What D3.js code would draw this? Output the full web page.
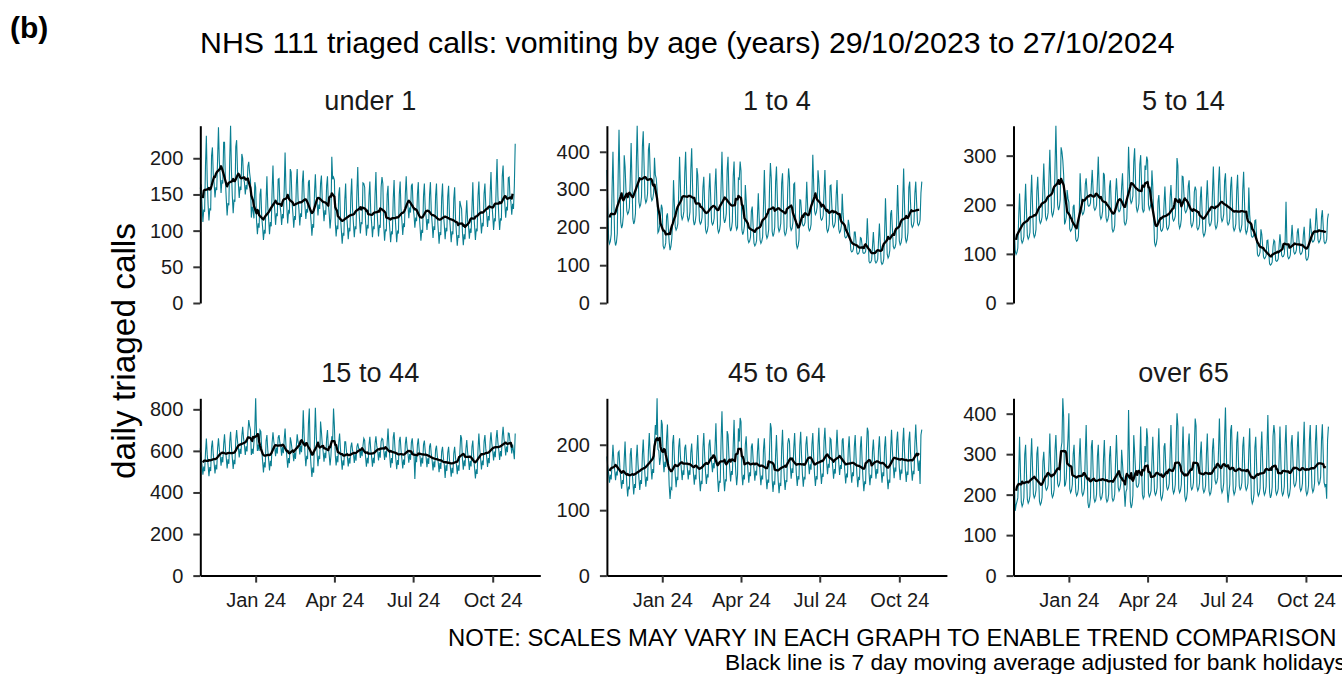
<!DOCTYPE html>
<html>
<head>
<meta charset="utf-8">
<script src="https://cdnjs.cloudflare.com/ajax/libs/d3/7.8.5/d3.min.js"></script>
<style>
  body { margin: 0; background: #fff; }
  text { font-family: "Liberation Sans", Arial, sans-serif; }
</style>
</head>
<body>
<svg id="chart" width="1342" height="674"></svg>
<script>
// ---- data: daily triaged calls, one value per day from startDate ----
const startDate = "2023-10-29";
const panelNames = ["under 1", "1 to 4", "5 to 14", "15 to 44", "45 to 64", "over 65"];

const under1 = [
  158,164,135,112,129,126,190, 231,170,136,114,131,128,203,
  215,178,165,146,160,156,199, 243,196,175,152,170,165,222,
  222,170,144,121,138,135,198, 245,183,148,124,143,140,216,
  225,183,165,145,161,156,206, 200,172,167,150,163,157,189,
  195,180,170,118,133,128,117, 167,160,114,95,110,104,150,
  158,119,105,87,101,96,141, 175,133,116,95,112,106,156,
  190,147,129,108,124,120,171, 172,137,126,108,123,117,157,
  208,158,133,110,127,125,185, 181,140,124,104,120,115,163,
  185,144,129,107,124,119,167, 183,147,134,116,130,125,167,
  170,129,113,93,109,104,152, 178,147,140,121,136,130,165,
  176,142,132,113,128,122,162, 175,138,123,103,118,202,171,
  174,170,112,92,107,102,150, 160,119,101,82,97,93,142,
  165,124,108,88,104,99,147, 172,129,110,91,106,102,153,
  188,140,116,96,112,109,166, 165,160,113,93,108,103,148,
  168,127,111,91,106,102,150, 181,134,112,92,108,104,160,
  174,165,107,86,102,99,150, 162,121,103,84,99,95,144,
  170,125,104,84,100,96,150, 168,129,114,94,110,105,151,
  175,143,135,117,132,125,162, 165,132,122,104,118,113,151,
  167,124,105,86,101,97,148, 165,130,119,101,116,110,150,
  167,126,110,90,106,101,149, 165,121,102,82,98,94,145,
  165,124,108,88,104,99,147, 162,121,103,84,99,95,144,
  160,117,98,79,94,90,141, 135,130,98,80,95,88,120,
  142,113,107,89,103,97,130, 167,125,107,87,103,99,148,
  168,130,115,96,111,106,151, 165,133,124,105,120,114,151,
  181,139,121,101,117,113,162, 199,148,121,101,117,114,175,
  190,152,137,118,133,128,173, 174,145,140,122,137,130,162,
  220
];

const age1to4 = [
  352,258,169,157,163,182,302, 400,280,168,152,160,184,336,
  458,332,214,198,206,231,391, 361,300,244,235,240,252,329,
  423,320,223,209,216,237,368, 469,365,267,254,260,281,413,
  454,363,277,265,271,289,405, 423,350,281,271,276,291,384,
  339,330,300,186,190,205,230, 260,250,151,144,148,159,230,
  237,200,160,140,150,171,217, 325,261,202,193,198,210,291,
  387,307,232,221,227,243,344, 400,312,229,217,223,241,353,
  409,311,219,206,213,232,357, 339,276,217,209,213,226,305,
  334,262,195,185,190,204,296, 343,277,215,207,211,224,308,
  356,274,197,186,191,208,312, 400,309,225,212,219,237,352,
  387,292,203,190,197,216,336, 374,287,206,194,200,330,328,
  374,350,194,181,188,205,312, 272,218,168,160,164,175,243,
  255,205,158,151,155,165,228, 290,226,167,158,163,175,256,
  352,264,182,171,177,194,305, 370,330,189,176,183,201,320,
  361,278,200,189,195,211,317, 343,264,189,179,184,200,301,
  356,330,202,192,197,213,314, 317,234,156,145,151,167,273,
  272,239,208,204,206,213,254, 321,258,199,191,195,208,287,
  392,316,244,234,239,254,351, 321,272,225,219,222,232,295,
  352,273,198,188,193,209,310, 312,258,208,200,204,215,283,
  325,258,195,186,190,204,289, 237,206,176,172,174,180,220,
  206,172,139,135,137,144,188, 188,160,133,129,131,137,173,
  171,152,133,131,132,136,161, 224,170,110,106,108,114,150,
  188,148,111,106,109,116,167, 210,158,109,102,105,116,182,
  277,201,129,119,124,139,236, 246,197,150,144,147,157,220,
  312,236,164,154,159,174,271, 356,262,173,161,167,186,306,
  321,263,208,200,204,216,290, 321,265,212,205,209,220,291,
  321
];

const age5to14 = [
  155,151,106,99,103,112,174, 223,174,129,122,126,135,197,
  243,188,137,130,134,144,214, 261,200,142,134,138,150,228,
  257,211,169,162,166,175,233, 284,229,177,169,173,184,254,
  312,247,186,177,182,195,277, 361,278,200,189,195,211,317,
  308,290,260,160,165,175,230, 213,205,151,146,149,155,196,
  200,164,130,126,128,135,181, 264,224,186,180,183,191,242,
  254,226,200,197,198,204,239, 271,231,194,189,192,199,250,
  298,237,179,171,175,187,265, 261,215,173,166,170,179,237,
  250,199,151,145,148,158,223, 254,221,190,186,188,195,236,
  264,213,165,159,162,172,237, 318,263,211,203,207,218,288,
  315,253,195,186,191,203,282, 301,245,192,185,188,280,271,
  298,290,200,190,195,204,270, 237,179,124,116,120,132,206,
  220,184,150,146,148,155,201, 237,194,154,149,152,160,214,
  240,205,172,167,170,177,221, 295,280,162,152,157,171,258,
  257,222,189,184,187,194,238, 250,204,162,155,159,168,226,
  237,230,154,149,152,160,214, 237,188,143,136,140,149,211,
  250,205,163,157,160,169,226, 278,217,159,151,155,167,245,
  278,224,174,166,170,181,249, 264,213,165,159,162,172,237,
  257,204,154,147,151,161,229, 261,205,152,145,149,160,231,
  267,206,150,141,146,158,235, 180,158,137,134,135,140,168,
  169,133,99,95,97,104,150, 140,116,94,90,92,97,127,
  128,103,80,77,79,83,115, 128,125,87,85,86,90,117,
  140,118,97,94,95,100,128, 206,125,95,90,92,98,130,
  159,131,104,100,102,108,144, 152,127,103,99,101,106,138,
  155,122,91,87,89,96,137, 172,149,127,124,126,130,160,
  193,159,128,123,126,132,175, 189,156,125,121,123,130,171,
  182
];

const age15to44 = [
  612,564,530,485,525,502,590, 660,582,530,478,522,503,618,
  650,583,540,491,533,511,614, 660,606,575,529,570,545,631,
  680,611,568,516,560,538,643, 692,616,565,513,557,536,651,
  700,646,615,569,610,585,671, 716,660,627,580,622,597,686,
  748,720,700,580,610,585,640, 700,853,680,600,630,600,700,
  692,608,552,496,545,520,647, 676,604,558,506,552,526,638,
  690,644,620,574,616,587,665, 676,638,622,577,618,589,656,
  708,627,573,519,566,541,665, 644,608,594,550,590,561,625,
  680,643,628,583,624,594,660, 796,676,586,526,576,560,732,
  804,600,530,475,520,495,650, 808,682,586,526,576,561,741,
  692,632,596,548,591,565,660, 700,615,580,530,575,670,650,
  804,720,580,530,575,545,640, 684,610,562,509,555,530,644,
  644,596,571,525,567,539,618, 640,602,588,542,584,553,620,
  636,612,610,566,607,574,623, 660,650,571,524,567,540,630,
  668,608,572,524,567,541,636, 670,624,600,554,596,567,645,
  660,655,602,556,598,568,638, 708,627,573,519,566,541,665,
  690,614,562,512,556,533,649, 668,604,563,515,558,533,634,
  668,617,589,543,585,557,641, 660,608,579,465,575,546,632,
  660,604,571,524,567,540,630, 650,598,569,522,564,537,622,
  636,583,553,506,549,521,608, 625,573,545,498,541,513,597,
  620,566,536,470,531,504,591, 620,560,524,476,519,493,588,
  620,566,536,488,531,504,591, 676,660,560,510,554,526,610,
  652,592,556,508,551,525,620, 650,571,518,467,511,489,608,
  684,610,560,511,554,531,644, 676,612,571,523,566,541,642,
  690,634,601,554,597,570,660, 700,640,604,556,599,573,668,
  716,659,626,578,621,594,686, 684,647,633,588,630,599,560,
  684
];

const age45to64 = [
  182,166,156,142,154,147,173, 200,177,161,146,159,153,188,
  190,165,148,133,146,140,177, 205,168,140,121,136,132,185,
  195,164,143,124,140,134,179, 200,170,149,131,146,140,184,
  208,177,154,136,151,145,191, 218,187,166,147,163,157,202,
  230,215,271,193,191,169,180, 238,231,177,158,174,166,210,
  231,179,138,117,134,132,203, 215,180,154,135,151,146,196,
  210,182,163,146,161,154,195, 200,178,164,147,161,154,188,
  202,175,157,139,154,147,188, 215,177,148,129,145,140,195,
  218,184,158,140,155,150,200, 208,187,174,158,172,164,197,
  233,186,149,128,145,142,208, 251,196,151,129,146,145,221,
  215,184,163,144,160,154,199, 238,185,157,138,154,225,205,
  241,235,157,138,154,147,200, 213,182,161,142,158,152,197,
  202,178,163,145,160,153,189, 210,179,156,138,153,147,193,
  210,176,150,132,147,142,192, 233,225,147,128,144,139,185,
  215,175,145,126,142,137,194, 223,182,150,131,146,143,201,
  210,205,167,148,164,157,195, 218,182,155,137,152,147,199,
  220,183,155,136,151,147,200, 213,188,172,155,170,162,200,
  218,182,155,137,152,147,199, 226,188,159,140,156,151,206,
  226,195,174,155,171,165,210, 208,183,166,148,163,156,194,
  223,193,172,154,169,163,207, 210,180,159,141,156,150,194,
  213,182,161,142,158,152,197, 215,180,154,135,151,146,196,
  213,176,148,129,144,140,193, 226,220,157,138,154,149,190,
  208,183,166,148,163,156,194, 213,182,161,142,158,152,197,
  213,177,150,132,147,142,194, 223,191,168,149,165,159,206,
  220,188,165,146,162,156,203, 226,189,162,143,159,154,206,
  220,187,163,145,160,155,202, 231,200,179,160,176,140,215,
  223
];

const over65 = [
  277,230,160,175,183,192,252, 343,260,182,171,177,193,299,
  323,253,188,179,184,197,286, 339,268,201,192,197,211,301,
  319,249,184,175,180,193,282, 306,260,218,211,215,224,282,
  351,275,203,193,198,213,310, 347,286,228,220,224,236,314,
  330,438,390,220,225,240,300, 340,401,215,205,210,225,300,
  323,262,206,197,202,214,291, 339,271,207,198,203,216,303,
  372,273,181,167,174,194,319, 335,261,191,182,186,201,295,
  323,258,197,188,193,206,288, 335,261,191,182,186,201,295,
  320,254,192,184,188,201,285, 347,280,218,209,214,227,311,
  277,242,209,170,207,214,258, 409,292,183,167,175,198,347,
  306,263,223,218,220,229,283, 368,270,200,190,195,320,280,
  364,340,205,195,200,210,280, 343,273,208,199,204,217,306,
  364,279,199,187,193,210,318, 327,272,220,212,216,227,297,
  372,290,214,203,209,225,328, 401,370,215,205,210,225,300,
  368,280,197,185,191,209,321, 351,284,221,212,216,230,315,
  388,370,220,210,215,228,300, 331,270,214,205,210,222,299,
  351,278,209,199,204,219,312, 339,285,235,227,231,242,310,
  388,300,217,205,211,229,341, 415,310,212,180,205,226,359,
  372,289,211,200,206,222,328, 356,286,221,212,216,230,319,
  343,279,220,211,216,228,309, 364,274,190,178,184,202,316,
  343,273,207,197,202,216,305, 356,280,210,199,205,220,316,
  397,298,206,192,199,219,344, 372,350,210,200,205,215,290,
  368,286,209,198,203,220,324, 372,286,205,194,200,217,326,
  347,286,228,220,224,236,314, 356,285,218,209,214,228,318,
  380,292,210,199,205,222,333, 372,292,217,206,212,228,329,
  372,301,234,225,230,244,334, 374,300,230,221,226,190,334,
  368
];

// tick values per panel
const yTicksUnder1 = [0, 50, 100, 150, 200];
const yTicks1to4 = [0, 100, 200, 300, 400];
const yTicks5to14 = [0, 100, 200, 300];
const yTicks15to44 = [0, 200, 400, 600, 800];
const yTicks45to64 = [0, 100, 200];
const yTicksOver65 = [0, 100, 200, 300, 400];
const xTickDates = ["2024-01-01", "2024-04-01", "2024-07-01", "2024-10-01"];
const xTickLabels = ["Jan 24", "Apr 24", "Jul 24", "Oct 24"];

const seriesList = [under1, age1to4, age5to14, age15to44, age45to64, over65];
const tickList = [yTicksUnder1, yTicks1to4, yTicks5to14, yTicks15to44, yTicks45to64, yTicksOver65];

// ---- layout ----
const svg = d3.select("#chart");
const parse = d3.utcParse("%Y-%m-%d");
const start = parse(startDate);
const colX = [200.3, 606.9, 1013.5];
const rowTop = [125.7, 398.3];
const panelW = 340, panelH = 177.3;
const teal = "#0a7f92";

function fitFont(sel, target) {
  const w = sel.node().getComputedTextLength();
  const fs = parseFloat(sel.attr("font-size"));
  const nfs = fs * target / w;
  sel.attr("font-size", nfs);
  return nfs;
}

// tag and title
svg.append("text").attr("x", 10).attr("y", 38)
  .attr("font-size", 30).attr("font-weight", "bold").attr("fill", "#000")
  .text("(b)");

const title = svg.append("text").attr("x", 200).attr("y", 53)
  .attr("font-size", 25).attr("fill", "#000")
  .text("NHS 111 triaged calls: vomiting by age (years) 29/10/2023 to 27/10/2024");
fitFont(title, 975);

const yTitle = svg.append("text")
  .attr("transform", "translate(135,351) rotate(-90)")
  .attr("text-anchor", "middle").attr("font-size", 30).attr("fill", "#000")
  .text("daily triaged calls");
fitFont(yTitle, 256);

let stripSize = null;

seriesList.forEach((vals, p) => {
  const row = Math.floor(p / 3), col = p % 3;
  const x0 = colX[col], top = rowTop[row], bottom = top + panelH;

  const x = d3.scaleUtc()
    .domain([start, d3.utcDay.offset(start, 393)])
    .range([x0, x0 + panelW]);
  const y = d3.scaleLinear()
    .domain([0, d3.max(vals)])
    .range([bottom, top]);

  const days = vals.map((v, i) => ({ date: d3.utcDay.offset(start, i), v: v }));

  // centred 7 day moving average
  const ma = [];
  for (let i = 3; i < vals.length - 3; i++) {
    ma.push({ date: days[i].date, v: d3.mean(vals.slice(i - 3, i + 4)) });
  }

  const g = svg.append("g");

  const line = d3.line().x(d => x(d.date)).y(d => y(d.v));

  g.append("path").datum(days)
    .attr("d", line)
    .attr("fill", "none").attr("stroke", teal).attr("stroke-width", 1.1);

  g.append("path").datum(ma)
    .attr("d", line)
    .attr("fill", "none").attr("stroke", "#000").attr("stroke-width", 2.3)
    .attr("stroke-linejoin", "round");

  // y axis
  const ya = g.append("g").attr("transform", `translate(${x0},0)`)
    .call(d3.axisLeft(y).tickValues(tickList[p]).tickSize(7).tickSizeOuter(0).tickPadding(10));
  ya.select(".domain").attr("stroke", "#000").attr("stroke-width", 2);
  ya.selectAll(".tick line").attr("stroke", "#333").attr("stroke-width", 2);
  ya.selectAll(".tick text").attr("font-size", 20).attr("fill", "#1a1a1a")
    .attr("font-family", "Liberation Sans, Arial, sans-serif");

  // x axis only on the bottom row
  if (row === 1) {
    const xa = g.append("g").attr("transform", `translate(0,${bottom})`)
      .call(d3.axisBottom(x)
        .tickValues(xTickDates.map(parse))
        .tickFormat((d, i) => xTickLabels[i])
        .tickSize(7).tickSizeOuter(0).tickPadding(10));
    xa.select(".domain").attr("stroke", "#000").attr("stroke-width", 2);
    xa.selectAll(".tick line").attr("stroke", "#333").attr("stroke-width", 2);
    xa.selectAll(".tick text").attr("font-size", 20).attr("fill", "#1a1a1a")
      .attr("font-family", "Liberation Sans, Arial, sans-serif");
  }

  // strip label
  const s = svg.append("text")
    .attr("x", x0 + panelW / 2).attr("y", top - 16)
    .attr("text-anchor", "middle").attr("font-size", 24).attr("fill", "#1a1a1a")
    .text(panelNames[p]);
  if (stripSize === null) stripSize = fitFont(s, 92);
  else s.attr("font-size", stripSize);
});

// caption (runs past the right edge, as in the reference)
const note = svg.append("text").attr("x", 448).attr("y", 646)
  .attr("font-size", 23).attr("fill", "#000")
  .text("NOTE: SCALES MAY VARY IN EACH GRAPH TO ENABLE TREND COMPARISON");
fitFont(note, 889);

const note2 = svg.append("text").attr("x", 725).attr("y", 670)
  .attr("font-size", 23).attr("fill", "#000")
  .text("Black line is 7 day moving average adjusted for bank holidays");
fitFont(note2, 621);
</script>
</body>
</html>
